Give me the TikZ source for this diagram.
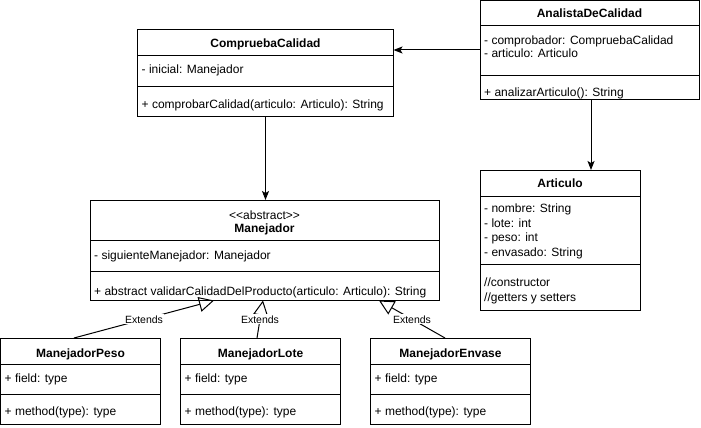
\documentclass[tikz,border=0pt]{standalone}
\usepackage{fontspec}
\setmainfont{Liberation Sans}[Ligatures=TeXOff]
\usetikzlibrary{arrows.meta}
\begin{document}
\begin{tikzpicture}[x=1pt,y=-1pt,
 cls/.style={draw, line width=1pt, anchor=north west, inner sep=0pt, outer sep=0pt},
 sep/.style={line width=1pt},
 hdr/.style={font=\fontsize{12}{14}\selectfont\bfseries, anchor=base, inner sep=0pt},
 txt/.style={font=\fontsize{12}{14}\selectfont, anchor=base west, inner sep=0pt},
 assoc/.style={line width=1pt, -{Stealth[length=9pt,width=7pt,inset=2pt]}},
 ext/.style={line width=1pt, -{Triangle[open,length=15pt,width=15pt]}},
 lbl/.style={font=\fontsize{10.5}{12}\selectfont, fill=white, inner sep=1pt}]
\useasboundingbox (0,0) rectangle (701,428);

% CompruebaCalidad
\node[cls, minimum width=256pt, minimum height=86pt] (cc) at (137.5,30) {};
\draw[sep] ([yshift=-26pt]cc.north west) -- ([yshift=-26pt]cc.north east);
\draw[sep] ([yshift=-56pt]cc.north west) -- ([yshift=-56pt]cc.north east);
\node[hdr] (ccn) at (265.5,47.5) {CompruebaCalidad};
\node[txt] (cca) at (141.5,73.5) {- inicial: Manejador};
\node[txt] (ccm) at (141.5,108.5) {+ comprobarCalidad(articulo: Articulo): String};

% AnalistaDeCalidad
\node[cls, minimum width=219pt, minimum height=99pt] (ad) at (480,0.5) {};
\draw[sep] ([yshift=-25.5pt]ad.north west) -- ([yshift=-25.5pt]ad.north east);
\draw[sep] ([yshift=-74.5pt]ad.north west) -- ([yshift=-74.5pt]ad.north east);
\node[hdr] (adn) at (589.5,18) {AnalistaDeCalidad};
\node[txt] (ada1) at (484,44.5) {- comprobador: CompruebaCalidad};
\node[txt] (ada2) at (484,58) {- articulo: Articulo};
\node[txt] (adm) at (484,96) {+ analizarArticulo(): String};

% Manejador
\node[cls, minimum width=349pt, minimum height=100.5pt] (man) at (90,200) {};
\draw[sep] ([yshift=-40pt]man.north west) -- ([yshift=-40pt]man.north east);
\draw[sep] ([yshift=-71pt]man.north west) -- ([yshift=-71pt]man.north east);
\node[hdr, font=\fontsize{12}{14}\selectfont] (mans) at (264.5,219) {<<abstract>>};
\node[hdr] (mann) at (264.5,232.5) {Manejador};
\node[txt] (mana) at (94,259.5) {- siguienteManejador: Manejador};
\node[txt] (manm) at (94,295) {+ abstract validarCalidadDelProducto(articulo: Articulo): String};

% Articulo
\node[cls, minimum width=160pt, minimum height=140pt] (art) at (480,170) {};
\draw[sep] ([yshift=-26pt]art.north west) -- ([yshift=-26pt]art.north east);
\draw[sep] ([yshift=-94pt]art.north west) -- ([yshift=-94pt]art.north east);
\node[hdr] (artn) at (560,187.5) {Articulo};
\node[txt] (arta1) at (484,212.5) {- nombre: String};
\node[txt] (arta2) at (484,227) {- lote: int};
\node[txt] (arta3) at (484,241.5) {- peso: int};
\node[txt] (arta4) at (484,256) {- envasado: String};
\node[txt] (artm1) at (484,286.5) {//constructor};
\node[txt] (artm2) at (484,301) {//getters y setters};

% ManejadorPeso
\node[cls, minimum width=160pt, minimum height=86pt] (peso) at (0.5,338) {};
\draw[sep] ([yshift=-26pt]peso.north west) -- ([yshift=-26pt]peso.north east);
\draw[sep] ([yshift=-56pt]peso.north west) -- ([yshift=-56pt]peso.north east);
\node[hdr] (peson) at (80.5,357) {ManejadorPeso};
\node[txt] (pesoa) at (4.5,382.5) {+ field: type};
\node[txt] (pesom) at (4.5,415.5) {+ method(type): type};

% ManejadorLote
\node[cls, minimum width=160pt, minimum height=86pt] (lote) at (180.5,338) {};
\draw[sep] ([yshift=-26pt]lote.north west) -- ([yshift=-26pt]lote.north east);
\draw[sep] ([yshift=-56pt]lote.north west) -- ([yshift=-56pt]lote.north east);
\node[hdr] (loten) at (260.5,357) {ManejadorLote};
\node[txt] (lotea) at (184.5,382.5) {+ field: type};
\node[txt] (lotem) at (184.5,415.5) {+ method(type): type};

% ManejadorEnvase
\node[cls, minimum width=160pt, minimum height=86pt] (env) at (370.5,338) {};
\draw[sep] ([yshift=-26pt]env.north west) -- ([yshift=-26pt]env.north east);
\draw[sep] ([yshift=-56pt]env.north west) -- ([yshift=-56pt]env.north east);
\node[hdr] (envn) at (450.5,357) {ManejadorEnvase};
\node[txt] (enva) at (374.5,382.5) {+ field: type};
\node[txt] (envm) at (374.5,415.5) {+ method(type): type};

% associations
\draw[assoc] (ad.west |- 0,50) -- (cc.east |- 0,50);
\draw[assoc] (cc.south) -- (cc.south |- man.north);
\draw[assoc] (ad.south -| 591,0) -- (art.north -| 591,0);

% generalisations
\draw[ext] (peso.north -| 74,0) -- node[lbl] (l1) {Extends} (man.south -| 214,0);
\draw[ext] (lote.north -| 257,0) -- node[lbl] (l2) {Extends} (man.south -| 263,0);
\draw[ext] (env.north -| 445,0) -- node[lbl] (l3) {Extends} (man.south -| 379,0);
\end{tikzpicture}
\end{document}
